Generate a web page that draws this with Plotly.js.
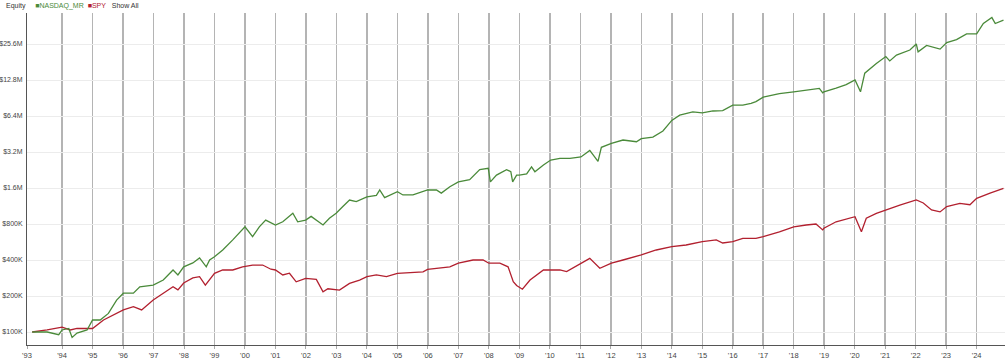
<!DOCTYPE html>
<html><head><meta charset="utf-8">
<script src="https://cdn.plot.ly/plotly-3.0.1.min.js"></script>
<style>html,body{margin:0;padding:0;background:#fff}#chart{width:1005px;height:362px}</style>
</head><body><div id="chart"></div>
<script>
// Equity in thousands of dollars, x in decimal years
const nasdaqYears = [1993.02,1993.51,1993.89,1994.0,1994.22,1994.33,1994.49,1994.82,1995.0,1995.25,1995.52,1995.79,1996.01,1996.34,1996.55,1996.99,1997.32,1997.64,1997.8,1997.99,1998.29,1998.51,1998.73,1998.84,1999.0,1999.27,1999.6,1999.82,2000.0,2000.25,2000.47,2000.68,2000.85,2001.0,2001.24,2001.57,2001.73,2001.99,2002.17,2002.34,2002.56,2002.77,2002.99,2003.21,2003.43,2003.65,2004.0,2004.31,2004.42,2004.58,2005.0,2005.18,2005.51,2005.99,2006.28,2006.44,2006.72,2007.0,2007.37,2007.7,2007.98,2008.05,2008.25,2008.58,2008.72,2008.78,2008.91,2009.0,2009.24,2009.4,2009.51,2009.79,2010.03,2010.33,2010.66,2011.02,2011.31,2011.58,2011.69,2012.02,2012.4,2012.84,2013.0,2013.38,2013.71,2014.0,2014.26,2014.69,2015.0,2015.35,2015.67,2016.0,2016.33,2016.6,2016.76,2017.0,2017.53,2018.0,2018.51,2018.84,2018.95,2018.99,2019.39,2019.72,2020.01,2020.19,2020.33,2020.71,2021.02,2021.15,2021.37,2021.81,2022.02,2022.08,2022.36,2022.8,2023.02,2023.34,2023.67,2024.0,2024.22,2024.5,2024.61,2024.88];
const nasdaqValues = [100,100,95,104,107,90,98,104,126,126,143,185,211,211,239,247,272,330,300,351,378,416,351,400,426,485,589,672,758,627,758,863,820,785,835,983,835,863,927,863,785,893,983,1120,1270,1230,1350,1390,1540,1330,1490,1400,1400,1540,1540,1450,1640,1800,1880,2280,2340,1800,2050,2280,2190,1800,2050,2050,2100,2400,2190,2490,2740,2830,2830,2910,3300,2670,3500,3780,4030,3900,4140,4270,4800,5880,6500,6920,6790,7050,7100,7900,7900,8180,8440,9210,9830,10200,10600,10900,10000,10200,10960,11700,12800,10200,14600,17600,20100,18500,20700,22800,25600,22000,24900,23200,26300,27900,31100,31100,38000,42600,38000,40600];
const spyYears = [1993.02,1993.51,1994.0,1994.27,1994.49,1995.0,1995.36,1995.68,1996.01,1996.34,1996.61,1996.99,1997.32,1997.64,1997.8,1997.99,1998.29,1998.51,1998.7,1999.0,1999.27,1999.6,1999.92,2000.25,2000.58,2000.85,2001.0,2001.24,2001.46,2001.68,2001.99,2002.34,2002.56,2002.72,2003.1,2003.43,2003.76,2004.0,2004.31,2004.64,2005.0,2005.4,2005.84,2005.99,2006.39,2006.72,2007.0,2007.48,2007.81,2008.0,2008.36,2008.63,2008.8,2008.91,2009.1,2009.35,2009.79,2010.03,2010.33,2010.55,2011.02,2011.31,2011.64,2012.02,2012.4,2013.0,2013.49,2014.0,2014.47,2015.0,2015.46,2015.67,2016.0,2016.33,2016.76,2017.0,2017.53,2018.0,2018.41,2018.73,2018.95,2018.99,2019.39,2019.83,2020.01,2020.22,2020.38,2020.71,2021.02,2021.48,2022.02,2022.25,2022.52,2022.8,2023.02,2023.45,2023.78,2024.0,2024.44,2024.88];
const spyValues = [100,104,110,104,107,107,126,139,153,163,153,185,211,239,225,257,283,290,247,309,330,330,351,363,363,335,330,300,310,263,281,275,217,230,224,255,272,290,300,290,309,312,318,334,341,350,376,400,400,376,376,351,263,245,228,272,330,330,330,320,376,413,341,376,400,441,485,517,534,569,589,555,569,607,607,627,689,758,785,800,714,737,835,893,921,689,893,983,1050,1150,1270,1200,1050,1010,1120,1190,1160,1310,1450,1590];
const yTickVals = [100,200,400,800,1600,3200,6400,12800,25600];
const yTickText = ['$100K','$200K','$400K','$800K','$1.6M','$3.2M','$6.4M','$12.8M','$25.6M'];
const xTickYears = [1992.85,1994,1995,1996,1997,1998,1999,2000,2001,2002,2003,2004,2005,2006,2007,2008,2009,2010,2011,2012,2013,2014,2015,2016,2017,2018,2019,2020,2021,2022,2023,2024];
const xTickText = ["'93","'94","'95","'96","'97","'98","'99","'00","'01","'02","'03","'04","'05","'06","'07","'08","'09","'10","'11","'12","'13","'14","'15","'16","'17","'18","'19","'20","'21","'22","'23","'24"];

const GREEN = '#4a8a3a', RED = '#b2202f';
const traces = [
  {x: spyYears, y: spyValues, type:'scatter', mode:'lines', name:'SPY', line:{color:RED, width:1.3}},
  {x: nasdaqYears, y: nasdaqValues, type:'scatter', mode:'lines', name:'NASDAQ_MR', line:{color:GREEN, width:1.3}}
];
const FAM = '"Liberation Sans", Arial, sans-serif';
const layout = {
  width:1005, height:362,
  margin:{l:27, r:0, t:13, b:17, pad:0},
  paper_bgcolor:'#fff', plot_bgcolor:'#fff',
  showlegend:false,
  font:{family:FAM, size:7, color:'#444'},
  xaxis:{
    type:'linear', range:[1992.85, 2024.93],
    tickvals:xTickYears, ticktext:xTickText,
    showgrid:true, gridcolor:'#b4b4b4', gridwidth:1.5,
    showline:true, linecolor:'#555', linewidth:1,
    ticks:'outside', ticklen:3, tickcolor:'#aaa',
    tickfont:{family:FAM, size:7.5, color:'#444'},
    zeroline:false, fixedrange:true
  },
  yaxis:{
    type:'log', range:[1.8913, 4.6675],
    tickvals:yTickVals, ticktext:yTickText,
    showgrid:true, gridcolor:'#ececec', gridwidth:1,
    showline:true, linecolor:'#555', linewidth:1,
    ticks:'', ticklabelstandoff:2,
    tickfont:{family:FAM, size:7, color:'#444'},
    zeroline:false, fixedrange:true
  },
  annotations:[{
    xref:'paper', yref:'paper', x:(4-27)/978, y:1+(13-6)/332,
    xanchor:'left', yanchor:'middle', showarrow:false,
    font:{family:FAM, size:7, color:'#333'},
    text:'Equity&nbsp;&nbsp;&nbsp;&nbsp; <span style="color:'+GREEN+'">■NASDAQ_MR</span>&nbsp; <span style="color:'+RED+'">■SPY</span>&nbsp;&nbsp; Show All'
  }]
};
Plotly.newPlot('chart', traces, layout, {displayModeBar:false, staticPlot:true});
</script></body></html>
